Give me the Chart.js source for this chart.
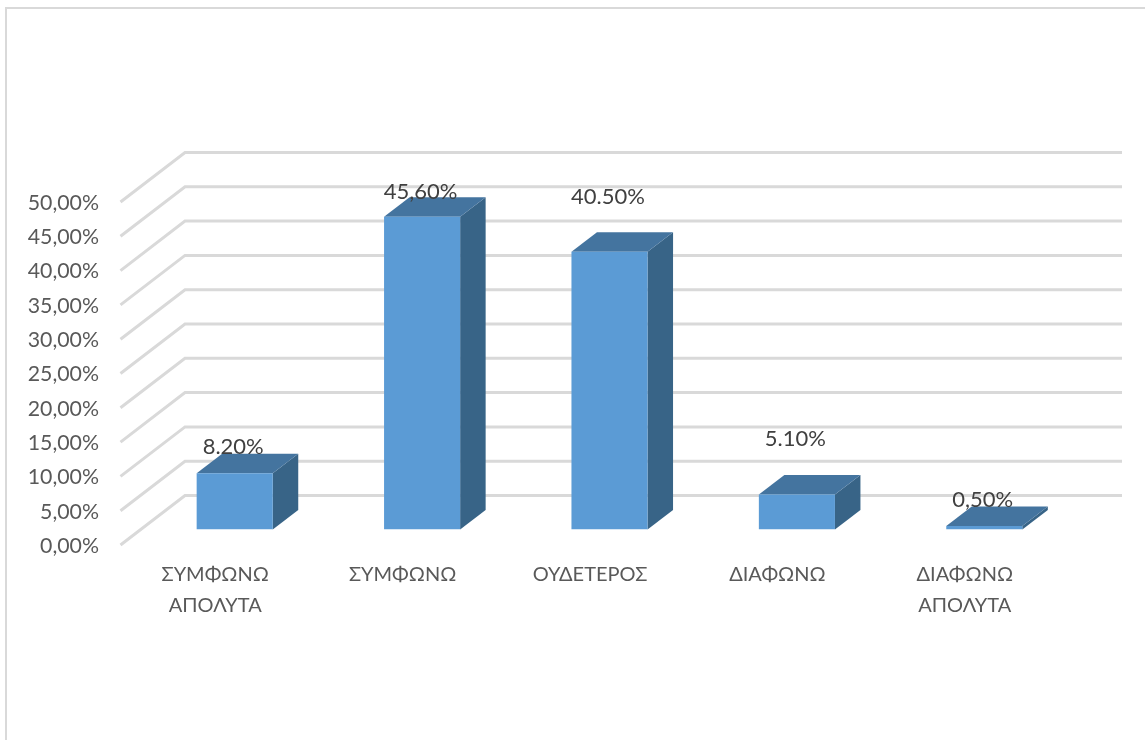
<!DOCTYPE html>
<html>
<head>
<meta charset="utf-8">
<title>Chart</title>
<script src="https://cdn.jsdelivr.net/npm/chart.js@4"></script>
<style>
    html, body { margin: 0; padding: 0; background: #fff; overflow: hidden; }
    #wrap { position: relative; width: 1145px; height: 740px; overflow: hidden; }
    #frame { position: absolute; left: 5px; top: 7px; width: 1200px; height: 800px; border: 2px solid #d9d9d9; }
    canvas { position: absolute; left: 0; top: 0; }
</style>
</head>
<body>
<div id="wrap">
    <div id="frame"></div>
    <canvas id="chart" width="1145" height="740"></canvas>
</div>
<script>
// Datos
const categories = [['ΣΥΜΦΩΝΩ', 'ΑΠΟΛΥΤΑ'], 'ΣΥΜΦΩΝΩ', 'ΟΥΔΕΤΕΡΟΣ', 'ΔΙΑΦΩΝΩ', ['ΔΙΑΦΩΝΩ', 'ΑΠΟΛΥΤΑ']];
const values = [8.2, 45.6, 40.5, 5.1, 0.5];
const valueLabels = ['8.20%', '45,60%', '40.50%', '5.10%', '0,50%'];

const FONT = "Lato, 'Open Sans', sans-serif";

// Suelo y paredes del 3D: desplazamientos respecto al plano de las barras
const FRONT = { dx: -20.5, dy: 15.5 };
const BACK = { dx: 44, dy: -34 };
const BAR_DEPTH = { dx: 25.5, dy: -19.5 };

// Etiquetas que en el original estan subidas a mano
const labelLift = [26, 25, 55, 56, 26];

const walls3d = {
    id: 'walls3d',
    beforeDatasetsDraw(chart) {
        const { ctx, chartArea, scales } = chart;
        ctx.save();
        ctx.strokeStyle = '#d9d9d9';
        ctx.lineWidth = 3;
        scales.y.ticks.forEach(t => {
            const y = scales.y.getPixelForValue(t.value);
            ctx.beginPath();
            ctx.moveTo(chartArea.left + FRONT.dx, y + FRONT.dy);
            ctx.lineTo(chartArea.left + BACK.dx, y + BACK.dy);
            ctx.lineTo(chartArea.right + BACK.dx, y + BACK.dy);
            ctx.stroke();
        });
        // Caras lateral y superior de cada barra
        chart.getDatasetMeta(0).data.forEach(bar => {
            const left = bar.x - bar.width / 2;
            const right = bar.x + bar.width / 2;
            ctx.fillStyle = '#386487';
            ctx.beginPath();
            ctx.moveTo(right, bar.y);
            ctx.lineTo(right + BAR_DEPTH.dx, bar.y + BAR_DEPTH.dy);
            ctx.lineTo(right + BAR_DEPTH.dx, bar.base + BAR_DEPTH.dy);
            ctx.lineTo(right, bar.base);
            ctx.closePath();
            ctx.fill();
            ctx.fillStyle = '#44749f';
            ctx.beginPath();
            ctx.moveTo(left, bar.y);
            ctx.lineTo(left + BAR_DEPTH.dx, bar.y + BAR_DEPTH.dy);
            ctx.lineTo(right + BAR_DEPTH.dx, bar.y + BAR_DEPTH.dy);
            ctx.lineTo(right, bar.y);
            ctx.closePath();
            ctx.fill();
        });
        ctx.restore();
    },
    afterDatasetsDraw(chart) {
        const { ctx } = chart;
        ctx.save();
        ctx.font = '22px ' + FONT;
        ctx.fillStyle = '#404040';
        ctx.textAlign = 'center';
        ctx.textBaseline = 'middle';
        chart.getDatasetMeta(0).data.forEach((bar, i) => {
            ctx.fillText(valueLabels[i], bar.x - 1.5, bar.y - labelLift[i]);
        });
        ctx.restore();
    }
};

new Chart(document.getElementById('chart'), {
    type: 'bar',
    data: {
        labels: categories,
        datasets: [{
            data: values,
            backgroundColor: '#5b9bd5',
            barPercentage: 0.406,
            categoryPercentage: 1
        }]
    },
    plugins: [walls3d],
    options: {
        responsive: false,
        animation: false,
        layout: { padding: { top: 186.5, right: 67, left: 0, bottom: 0 } },
        scales: {
            x: {
                grid: { display: false },
                border: { display: false },
                afterFit(scale) { scale.height = 210.5; },
                ticks: {
                    maxRotation: 0,
                    autoSkip: false,
                    padding: 22,
                    labelOffset: -19.5,
                    color: '#595959',
                    font: { family: FONT, size: 20, lineHeight: 1.55 }
                }
            },
            y: {
                min: 0,
                max: 50,
                grid: { display: false },
                border: { display: false },
                afterFit(scale) { scale.width = 141; },
                ticks: {
                    stepSize: 5,
                    padding: 34,
                    labelOffset: 16.5,
                    color: '#595959',
                    font: { family: FONT, size: 21.3 },
                    callback: v => v.toFixed(2).replace('.', ',') + '%'
                }
            }
        },
        plugins: {
            legend: { display: false },
            tooltip: { enabled: false }
        }
    }
});
</script>
</body>
</html>
